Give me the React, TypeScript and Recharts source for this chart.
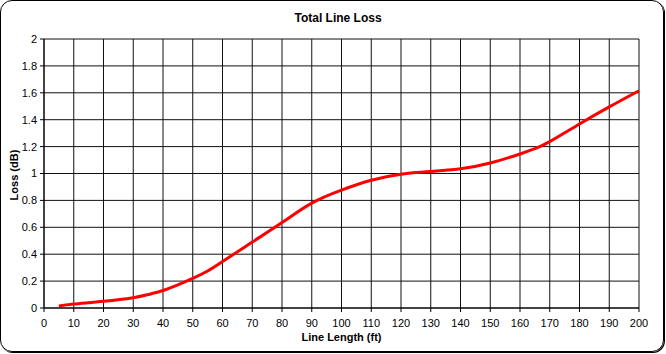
import React from "react";
import { LineChart, Line, XAxis, YAxis, CartesianGrid } from "recharts";

const lengthFt = [5, 10, 20, 30, 35, 40, 45, 50, 55, 60, 70, 80, 90, 100, 110, 120, 130, 140, 150, 160, 165, 170, 180, 190, 200];
const lossDb = [0.015, 0.03, 0.05, 0.077, 0.1, 0.13, 0.172, 0.22, 0.275, 0.345, 0.49, 0.635, 0.78, 0.877, 0.95, 0.995, 1.015, 1.035, 1.078, 1.145, 1.185, 1.237, 1.368, 1.495, 1.615];
const xTicks = [0, 10, 20, 30, 40, 50, 60, 70, 80, 90, 100, 110, 120, 130, 140, 150, 160, 170, 180, 190, 200];
const yTicks = [0, 0.2, 0.4, 0.6, 0.8, 1, 1.2, 1.4, 1.6, 1.8, 2];
const yTickLabels = ["0", "0.2", "0.4", "0.6", "0.8", "1", "1.2", "1.4", "1.6", "1.8", "2"];

const data = lengthFt.map((x, i) => ({ x, loss: lossDb[i] }));

const FONT = "'Liberation Sans', Arial, sans-serif";

export default function App() {
  return (
    <div style={{ position: "absolute", left: 0, top: 0, width: 666, height: 354, background: "#fff", fontFamily: FONT }}>
      <div
        style={{
          position: "absolute",
          left: 0,
          top: 0,
          width: 662,
          height: 350,
          border: "1px solid #000",
          borderRadius: 12,
          boxShadow: "1px 1px 0 #000",
        }}
      />
      <div style={{ position: "absolute", left: 0, top: 11, width: 676, textAlign: "center", fontSize: 12, fontWeight: "bold", color: "#000" }}>
        Total Line Loss
      </div>
      <div style={{ position: "absolute", left: 44, top: 331, width: 595, textAlign: "center", fontSize: 11, fontWeight: "bold", color: "#000" }}>
        Line Length (ft)
      </div>
      <div
        style={{
          position: "absolute",
          left: 14 - 40,
          top: 175 - 7,
          width: 80,
          height: 14,
          lineHeight: "14px",
          textAlign: "center",
          fontSize: 11,
          fontWeight: "bold",
          color: "#000",
          transform: "rotate(-90deg)",
        }}
      >
        Loss (dB)
      </div>
      <div style={{ position: "absolute", left: 0, top: 0 }}>
        <LineChart width={666} height={354} data={data} margin={{ top: 39, right: 27, bottom: 16, left: 0 }}>
          <CartesianGrid stroke="#111" strokeWidth={1} horizontalValues={yTicks} verticalValues={xTicks} />
          <XAxis
            dataKey="x"
            type="number"
            domain={[0, 200]}
            ticks={xTicks}
            interval={0}
            height={30}
            tickSize={4}
            tickMargin={7}
            axisLine={{ stroke: "#000" }}
            tickLine={{ stroke: "#000" }}
            tick={{ fill: "#000", fontSize: 11, fontFamily: FONT }}
          />
          <YAxis
            type="number"
            domain={[0, 2]}
            ticks={yTicks}
            interval={0}
            width={44}
            tickSize={4}
            tickMargin={3}
            tickFormatter={(v: number) => yTickLabels[yTicks.indexOf(v)] ?? String(v)}
            axisLine={{ stroke: "#000" }}
            tickLine={{ stroke: "#000" }}
            tick={{ fill: "#000", fontSize: 11, fontFamily: FONT }}
          />
          <Line dataKey="loss" type="natural" stroke="#ff0000" strokeWidth={3} dot={false} isAnimationActive={false} />
        </LineChart>
      </div>
    </div>
  );
}
